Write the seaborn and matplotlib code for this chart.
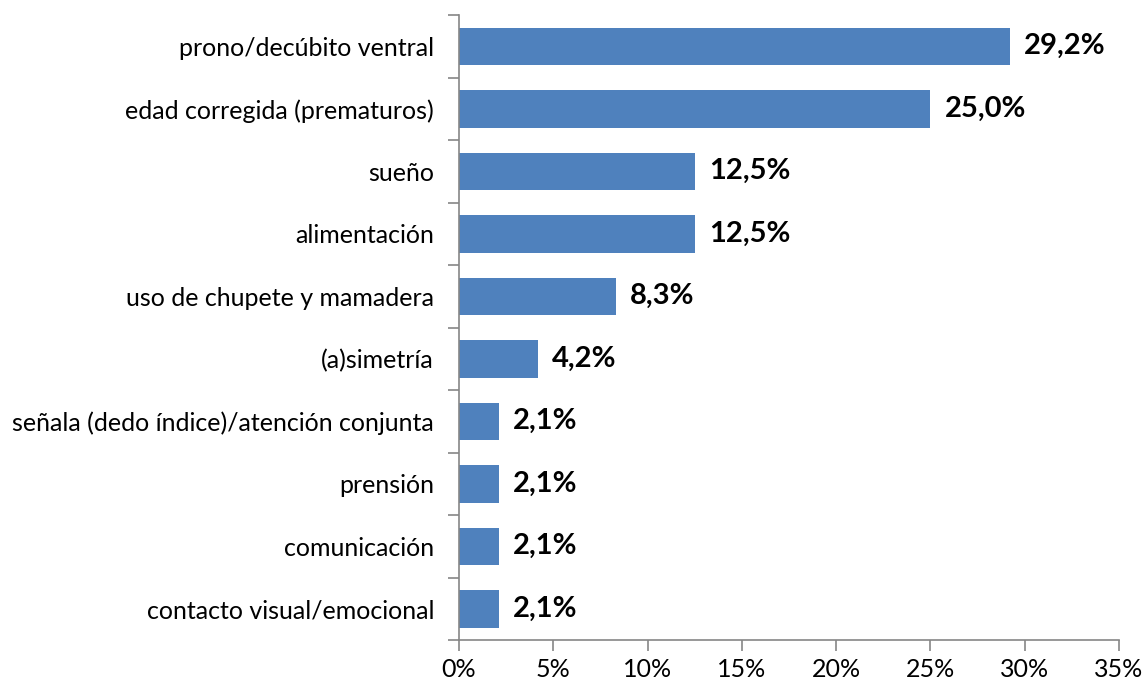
import matplotlib
matplotlib.use("Agg")

import matplotlib.pyplot as plt
import numpy as np
import pandas as pd
import seaborn as sns
from matplotlib.ticker import FixedLocator, PercentFormatter

# ─── DATA ────────────────────────────────────────────────────────
categories = [
    "prono/decúbito ventral",
    "edad corregida (prematuros)",
    "sueño",
    "alimentación",
    "uso de chupete y mamadera",
    "(a)simetría",
    "señala (dedo índice)/atención conjunta",
    "prensión",
    "comunicación",
    "contacto visual/emocional",
]
values = [29.2, 25.0, 12.5, 12.5, 8.3, 4.2, 2.1, 2.1, 2.1, 2.1]
x_ticks = [0, 5, 10, 15, 20, 25, 30, 35]

BAR_C  = "#4F81BD"
AXIS_C = "#868686"

sns.set_theme(style="white")
plt.rcParams["font.family"] = ["Lato", "DejaVu Sans"]

df = pd.DataFrame({"tema": categories, "pct": values})

fig = plt.figure(figsize=(11.45, 6.84), dpi=100)
ax = fig.add_axes([0.4009, 0.0643, 0.5764, 0.9137])

sns.barplot(data=df, x="pct", y="tema", color=BAR_C, width=0.6,
            saturation=1, edgecolor="none", ax=ax)

ax.set_xlim(0, 35)
ax.set_ylim(len(categories) - 0.5, -0.5)
ax.set_xticks(x_ticks)
ax.xaxis.set_major_formatter(PercentFormatter(decimals=0))
ax.set_xlabel("")
ax.set_ylabel("")

# Excel style: tick marks on category boundaries
ax.yaxis.set_minor_locator(FixedLocator(np.arange(-0.5, len(categories), 1.0)))
ax.tick_params(axis="y", which="major", length=0, labelsize=18, pad=18, colors="black")
ax.tick_params(axis="y", which="minor", length=8, width=1.2, color=AXIS_C, left=True)
ax.tick_params(axis="x", which="major", length=8, width=1.2, color=AXIS_C,
               labelsize=18, pad=5, labelcolor="black", bottom=True)

for side in ["top", "right"]:
    ax.spines[side].set_visible(False)
for side in ["left", "bottom"]:
    ax.spines[side].set_color(AXIS_C)
    ax.spines[side].set_linewidth(1.2)

for i, v in enumerate(values):
    ax.text(v + 0.75, i, f"{v:.1f}%".replace(".", ","), va="center", ha="left",
            fontsize=21, fontweight="bold", color="black")

fig.savefig("out.png", dpi=100, facecolor="white")
